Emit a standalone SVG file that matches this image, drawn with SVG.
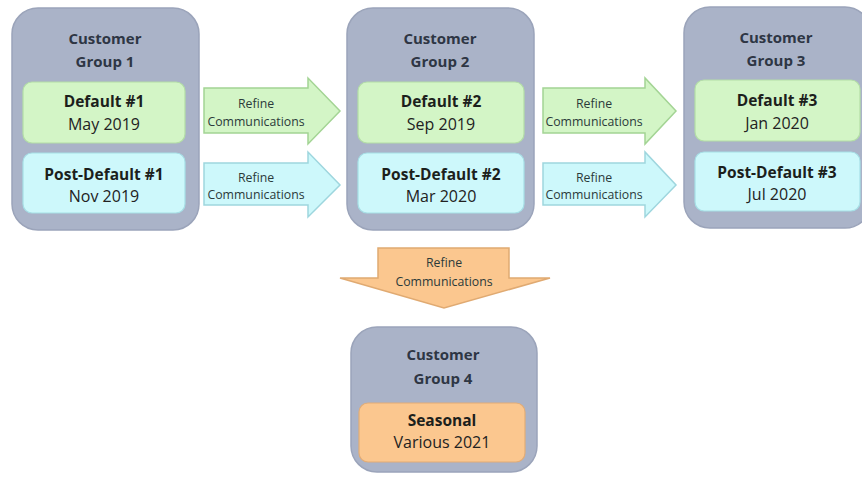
<svg xmlns="http://www.w3.org/2000/svg" width="862" height="478" viewBox="0 0 862 478">
  <style>
    .group { fill: #aab3c8; stroke: #9ba4ba; stroke-width: 1.5; }
    .green { fill: #d3f5c6; stroke: #b3dea6; stroke-width: 1.2; }
    .blue { fill: #cdf8fb; stroke: #a6dfe6; stroke-width: 1.2; }
    .orange { fill: #fbc78f; stroke: #e2ac76; stroke-width: 1.2; }
    .arrow-green { fill: #d3f5c6; stroke: #a3d494; stroke-width: 1.5; }
    .arrow-blue { fill: #cdf8fb; stroke: #9ed6de; stroke-width: 1.5; }
    .arrow-orange { fill: #fbc78f; stroke: #e0aa72; stroke-width: 1.5; }
    text { font-family: "Open Sans", "Noto Sans", "Liberation Sans", sans-serif; text-anchor: middle; }
    .title { font-size: 15px; font-weight: bold; fill: #2e3644; }
    .head { font-size: 15.5px; font-weight: bold; fill: #1c1f1c; }
    .sub { font-size: 16px; fill: #222; }
    .lbl { font-size: 12.3px; fill: #2b3a3a; }
  </style>

  <!-- connectors: block arrows between the groups -->
  <g id="connectors">
    <path class="arrow-green" d="M204,88 H308 V78 L340,111 L308,144 V133 H204 Z"/>
    <text class="lbl" x="256" y="108">Refine</text>
    <text class="lbl" x="256" y="126">Communications</text>

    <path class="arrow-blue" d="M204,163 H308 V152 L340,185 L308,217 V205 H204 Z"/>
    <text class="lbl" x="256" y="182">Refine</text>
    <text class="lbl" x="256" y="199">Communications</text>

    <path class="arrow-green" d="M543,88 H645 V78 L676,111 L645,144 V133 H543 Z"/>
    <text class="lbl" x="594" y="108">Refine</text>
    <text class="lbl" x="594" y="126">Communications</text>

    <path class="arrow-blue" d="M543,163 H645 V152 L676,185 L645,217 V205 H543 Z"/>
    <text class="lbl" x="594" y="182">Refine</text>
    <text class="lbl" x="594" y="199">Communications</text>

    <path class="arrow-orange" d="M378,248 H509 V278 H550 L444,308 L340,278 H378 Z"/>
    <text class="lbl" x="444" y="267">Refine</text>
    <text class="lbl" x="444" y="286">Communications</text>
  </g>

  <!-- Customer Group 1 -->
  <g id="group1">
    <rect class="group" x="12" y="8" width="187" height="222" rx="26"/>
    <text class="title" x="105" y="44">Customer</text>
    <text class="title" x="105" y="67">Group 1</text>
    <g id="default1">
      <rect class="green" x="23" y="82" width="162" height="61" rx="9"/>
      <text class="head" x="104" y="107">Default #1</text>
      <text class="sub" x="104" y="130">May 2019</text>
    </g>
    <g id="postdefault1">
      <rect class="blue" x="23" y="153" width="162" height="60" rx="9"/>
      <text class="head" x="104" y="180">Post-Default #1</text>
      <text class="sub" x="104" y="202">Nov 2019</text>
    </g>
  </g>

  <!-- Customer Group 2 -->
  <g id="group2">
    <rect class="group" x="347" y="8" width="187" height="222" rx="26"/>
    <text class="title" x="440" y="44">Customer</text>
    <text class="title" x="440" y="67">Group 2</text>
    <g id="default2">
      <rect class="green" x="358" y="82" width="166" height="61" rx="9"/>
      <text class="head" x="441" y="107">Default #2</text>
      <text class="sub" x="441" y="130">Sep 2019</text>
    </g>
    <g id="postdefault2">
      <rect class="blue" x="358" y="153" width="166" height="60" rx="9"/>
      <text class="head" x="441" y="180">Post-Default #2</text>
      <text class="sub" x="441" y="202">Mar 2020</text>
    </g>
  </g>

  <!-- Customer Group 3 -->
  <g id="group3">
    <rect class="group" x="684" y="7" width="187" height="221" rx="26"/>
    <text class="title" x="776" y="43">Customer</text>
    <text class="title" x="776" y="66">Group 3</text>
    <g id="default3">
      <rect class="green" x="695" y="80" width="165" height="61" rx="9"/>
      <text class="head" x="777" y="106">Default #3</text>
      <text class="sub" x="777" y="129">Jan 2020</text>
    </g>
    <g id="postdefault3">
      <rect class="blue" x="695" y="152" width="165" height="59" rx="9"/>
      <text class="head" x="777" y="178">Post-Default #3</text>
      <text class="sub" x="777" y="200">Jul 2020</text>
    </g>
  </g>

  <!-- Customer Group 4 -->
  <g id="group4">
    <rect class="group" x="351" y="327" width="186" height="145" rx="26"/>
    <text class="title" x="443" y="360">Customer</text>
    <text class="title" x="443" y="384">Group 4</text>
    <g id="seasonal">
      <rect class="orange" x="359" y="403" width="166" height="59" rx="9"/>
      <text class="head" x="442" y="426">Seasonal</text>
      <text class="sub" x="442" y="448">Various 2021</text>
    </g>
  </g>
</svg>
